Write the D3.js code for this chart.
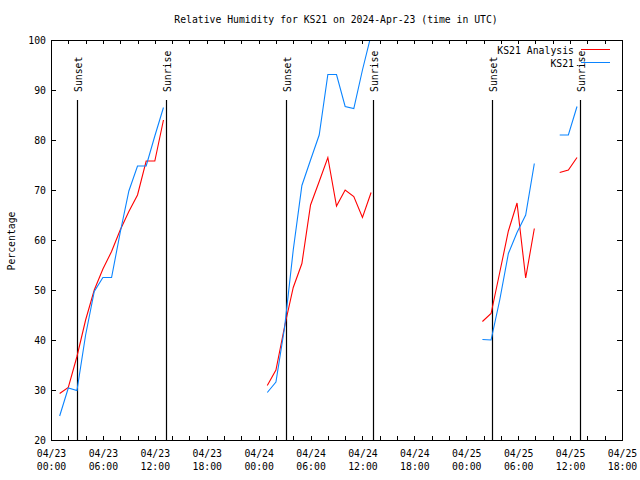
<!DOCTYPE html>
<html><head><meta charset="utf-8">
<script src="https://cdn.jsdelivr.net/npm/d3@7"></script>
<style>
body{margin:0;background:#fff}
svg{display:block}
text{font-family:"DejaVu Sans Mono",monospace;font-size:11px;fill:#000}
</style>
</head><body>
<svg id="c" width="640" height="480"></svg>
<script>
// ---------------- data ----------------
const title = "Relative Humidity for KS21 on 2024-Apr-23 (time in UTC)";
const yTitle = "Percentage";
const seriesNames = ["KS21 Analysis", "KS21"];

const times = [
  "2024-04-23T01:00","2024-04-23T02:00","2024-04-23T03:00","2024-04-23T04:00","2024-04-23T05:00",
  "2024-04-23T06:00","2024-04-23T07:00","2024-04-23T08:00","2024-04-23T09:00","2024-04-23T10:00",
  "2024-04-23T11:00","2024-04-23T12:00","2024-04-23T13:00",
  "2024-04-23T14:00",
  "2024-04-24T01:00","2024-04-24T02:00","2024-04-24T03:00","2024-04-24T04:00","2024-04-24T05:00",
  "2024-04-24T06:00","2024-04-24T07:00","2024-04-24T08:00","2024-04-24T09:00","2024-04-24T10:00",
  "2024-04-24T11:00","2024-04-24T12:00","2024-04-24T13:00",
  "2024-04-24T14:00",
  "2024-04-25T01:52","2024-04-25T02:52","2024-04-25T03:52","2024-04-25T04:52","2024-04-25T05:52",
  "2024-04-25T06:52","2024-04-25T07:52",
  "2024-04-25T08:52",
  "2024-04-25T10:48","2024-04-25T11:48","2024-04-25T12:48"
];
const analysis = [
  29.3,30.5,36.7,44.0,50.0,54.2,57.7,62.0,65.7,69.0,75.8,75.8,84.0,
  null,
  30.9,34.0,42.7,50.5,55.3,67.0,71.7,76.5,66.8,70.0,68.7,64.5,69.5,
  null,
  43.7,45.3,53.5,61.8,67.4,52.4,62.3,
  null,
  73.5,74.0,76.5
];
const observed = [
  24.8,30.4,29.9,41.0,49.7,52.5,52.5,61.5,69.8,74.8,74.8,80.8,86.5,
  null,
  29.5,31.6,42.5,58.0,70.9,76.0,81.0,93.1,93.1,86.7,86.3,94.0,101.0,
  null,
  40.1,40.0,48.0,57.3,61.5,65.0,75.3,
  null,
  81.0,81.0,86.7
];
const sunsetTimes  = ["2024-04-23T03:03","2024-04-24T03:08","2024-04-25T03:00"];
const sunriseTimes = ["2024-04-23T13:15","2024-04-24T13:16","2024-04-25T13:10"];
const yTicks = [20,30,40,50,60,70,80,90,100];
const xStart = "2024-04-23T00:00", xEnd = "2024-04-25T18:00";

// ---------------- chart ----------------
const parse = d3.utcParse("%Y-%m-%dT%H:%M");
const svg = d3.select("#c");
const L = 51, R = 622, T = 40, B = 440;
const x = d3.scaleUtc().domain([parse(xStart), parse(xEnd)]).range([L, R]);
const y = d3.scaleLinear().domain([20, 100]).range([B, T]);

function squeeze(sel, per) {
  sel.each(function(){ const n = this.textContent.length; d3.select(this).attr("textLength", n*per).attr("lengthAdjust","spacingAndGlyphs"); });
}

svg.append("rect").attr("width",640).attr("height",480).attr("fill","#fff");

const minorTicks = d3.utcHour.every(2).range(parse(xStart), new Date(+parse(xEnd)+1));
const majorTicks = d3.utcHour.every(6).range(parse(xStart), new Date(+parse(xEnd)+1));

function styleAxis(g){ g.select(".domain").remove(); g.selectAll("line").attr("stroke","#000").attr("shape-rendering","crispEdges"); g.attr("font-family",null).attr("font-size",null); }

svg.append("g").attr("transform",`translate(0,${B})`)
  .call(d3.axisBottom(x).tickValues(minorTicks).tickSize(-4).tickFormat("")).call(styleAxis);
svg.append("g").attr("transform",`translate(0,${T})`)
  .call(d3.axisTop(x).tickValues(minorTicks).tickSize(-4).tickFormat("")).call(styleAxis);
svg.append("g").attr("transform",`translate(${L},0)`)
  .call(d3.axisLeft(y).tickValues(yTicks).tickSize(-5).tickPadding(5)).call(styleAxis)
  .selectAll("text").attr("fill","#000").call(squeeze, 5.9);
svg.append("g").attr("transform",`translate(${R},0)`)
  .call(d3.axisRight(y).tickValues(yTicks).tickSize(-5).tickFormat("")).call(styleAxis);

// x tick labels (two lines)
const fmtD = d3.utcFormat("%m/%d"), fmtT = d3.utcFormat("%H:%M");
const xl = svg.append("g").selectAll("g").data(majorTicks).join("g")
  .attr("transform", d => `translate(${x(d)+0.5},0)`);
xl.append("text").attr("y",457).attr("text-anchor","middle").text(d=>fmtD(d)).call(squeeze,5.9);
xl.append("text").attr("y",470).attr("text-anchor","middle").text(d=>fmtT(d)).call(squeeze,5.9);

// sunset / sunrise markers
const events = sunsetTimes.map(t=>({t:parse(t),label:"Sunset"})).concat(sunriseTimes.map(t=>({t:parse(t),label:"Sunrise"})));
const ev = svg.append("g").selectAll("g").data(events).join("g");
ev.append("line")
  .attr("x1", d=>Math.round(x(d.t))+0.5).attr("x2", d=>Math.round(x(d.t))+0.5)
  .attr("y1", y(88)).attr("y2", B).attr("stroke","#000").attr("stroke-width",1.2);
ev.append("text")
  .attr("transform", d=>`translate(${Math.round(x(d.t))+5},92) rotate(-90)`)
  .attr("text-anchor","start").text(d=>d.label).call(squeeze,5.9);

// clip
svg.append("clipPath").attr("id","pc").append("rect").attr("x",L).attr("y",T).attr("width",R-L).attr("height",B-T);

const rows = times.map((t,i)=>({t:parse(t), a:analysis[i], o:observed[i]}));
const lineA = d3.line().defined(d=>d.a!=null).x(d=>x(d.t)).y(d=>y(d.a));
const lineO = d3.line().defined(d=>d.o!=null).x(d=>x(d.t)).y(d=>y(d.o));
const pg = svg.append("g").attr("clip-path","url(#pc)");
pg.append("path").datum(rows).attr("d",lineA).attr("fill","none").attr("stroke","#ff0000").attr("stroke-width",1.1);
pg.append("path").datum(rows).attr("d",lineO).attr("fill","none").attr("stroke","#0a84ff").attr("stroke-width",1.1);

// border
svg.append("rect").attr("x",L+0.5).attr("y",T+0.5).attr("width",R-L).attr("height",B-T)
  .attr("fill","none").attr("stroke","#000").attr("shape-rendering","crispEdges");

// title and y title
svg.append("text").attr("x",336).attr("y",23).attr("text-anchor","middle").text(title).call(squeeze,5.88);
svg.append("text").attr("transform","translate(15,241) rotate(-90)").attr("text-anchor","middle").text(yTitle).call(squeeze,5.9);

// legend
const leg = svg.append("g").selectAll("g").data([{n:seriesNames[0],c:"#ff0000"},{n:seriesNames[1],c:"#0a84ff"}]).join("g")
  .attr("transform",(d,i)=>`translate(0,${49.5+i*13})`);
leg.append("text").attr("x",574).attr("y",4).attr("text-anchor","end").text(d=>d.n).call(squeeze,5.9);
leg.append("line").attr("x1",581).attr("x2",610).attr("stroke",d=>d.c).attr("stroke-width",1.1).attr("shape-rendering","crispEdges");
</script>
</body></html>
